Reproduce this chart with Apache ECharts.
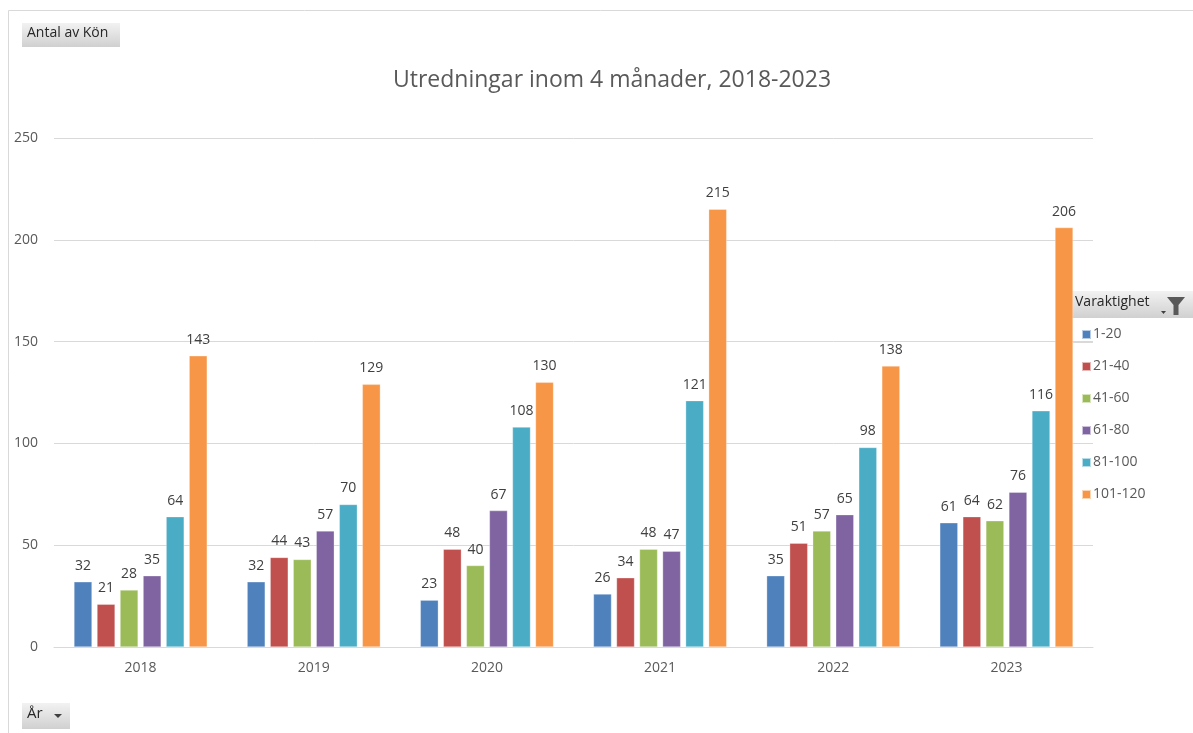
<!DOCTYPE html>
<html>
<head>
<meta charset="utf-8">
<script src="https://cdn.jsdelivr.net/npm/echarts@6/dist/echarts.min.js"></script>
<style>
html,body{margin:0;padding:0;background:#fff;}
#chart{width:1193px;height:733px;}
</style>
</head>
<body>
<div id="chart"></div>
<script>
const categories = ['2018', '2019', '2020', '2021', '2022', '2023'];
const seriesNames = ['1-20', '21-40', '41-60', '61-80', '81-100', '101-120'];
const s1_20 = [32, 32, 23, 26, 35, 61];
const s21_40 = [21, 44, 48, 34, 51, 64];
const s41_60 = [28, 43, 40, 48, 57, 62];
const s61_80 = [35, 57, 67, 47, 65, 76];
const s81_100 = [64, 70, 108, 121, 98, 116];
const s101_120 = [143, 129, 130, 215, 138, 206];
const yTicks = [0, 50, 100, 150, 200, 250];
const colors = ['#4F81BD', '#C0504D', '#9BBB59', '#8064A2', '#4BACC6', '#F79646'];
const seriesData = [s1_20, s21_40, s41_60, s61_80, s81_100, s101_120];

const FONT = '"Open Sans", "Noto Sans", sans-serif';
const chart = echarts.init(document.getElementById('chart'));

const btnGrad = new echarts.graphic.LinearGradient(0, 0, 0, 1, [
  {offset: 0, color: '#f2f2f2'}, {offset: 1, color: '#d0d0d0'}
]);

chart.setOption({
  backgroundColor: '#fff',
  animation: false,
  color: colors,
  title: {
    text: 'Utredningar inom 4 månader, 2018-2023',
    left: 388,
    top: 64,
    textStyle: {fontFamily: FONT, fontSize: 23, fontWeight: 'normal', color: '#595959'}
  },
  grid: {left: 54, right: 100, top: 138, bottom: 86, containLabel: false},
  legend: {
    orient: 'vertical',
    left: 1076,
    top: 320,
    itemWidth: 9,
    itemHeight: 9,
    itemGap: 13,
    icon: 'rect',
    selectedMode: false,
    data: seriesNames,
    textStyle: {fontFamily: FONT, fontSize: 14, color: '#595959', padding: [0, 0, 0, -3], lineHeight: 19}
  },
  xAxis: {
    type: 'category',
    data: categories,
    axisLine: {lineStyle: {color: '#d9d9d9', width: 1}},
    axisTick: {show: false},
    axisLabel: {fontFamily: FONT, fontSize: 14, color: '#595959', margin: 14}
  },
  yAxis: {
    type: 'value',
    min: yTicks[0],
    max: yTicks[yTicks.length - 1],
    interval: 50,
    axisLine: {show: false},
    axisTick: {show: false},
    splitLine: {lineStyle: {color: '#d9d9d9', width: 1}},
    axisLabel: {fontFamily: FONT, fontSize: 14, color: '#595959', margin: 16}
  },
  series: seriesNames.map((name, i) => ({
    name: name,
    type: 'bar',
    data: seriesData[i],
    barWidth: 18,
    barGap: '28%',
    itemStyle: {color: colors[i], borderColor: 'rgba(255,255,255,0.6)', borderWidth: 0.5},
    label: {
      show: true,
      position: 'top',
      distance: 9,
      fontFamily: FONT,
      fontSize: 14,
      color: '#404040'
    }
  })),
  graphic: [
    {type: 'line', shape: {x1: 8.5, y1: 10.5, x2: 1193, y2: 10.5}, style: {stroke: '#d9d9d9', lineWidth: 1}},
    {type: 'line', shape: {x1: 8.5, y1: 10.5, x2: 8.5, y2: 733}, style: {stroke: '#d9d9d9', lineWidth: 1}},
    {type: 'rect', shape: {x: 22, y: 23, width: 98, height: 24}, style: {fill: btnGrad}},
    {type: 'text', left: 27, top: 26, style: {text: 'Antal av Kön', fontFamily: FONT, fontSize: 14, fill: '#262626'}},
    {type: 'rect', shape: {x: 22, y: 703, width: 48, height: 26}, style: {fill: btnGrad}},
    {type: 'text', left: 27, top: 706, style: {text: 'År', fontFamily: FONT, fontSize: 15, fill: '#262626'}},
    {type: 'polygon', shape: {points: [[54, 714], [62, 714], [58, 718]]}, style: {fill: '#404040'}},
    {type: 'rect', shape: {x: 1071, y: 291, width: 122, height: 27}, style: {fill: btnGrad}},
    {type: 'text', left: 1075, top: 295, style: {text: 'Varaktighet', fontFamily: FONT, fontSize: 14, fill: '#262626'}},
    {type: 'polygon', shape: {points: [[1161, 311], [1166, 311], [1163.5, 314]]}, style: {fill: '#404040'}},
    {type: 'polygon', shape: {points: [[1167, 297], [1185, 297], [1178.5, 305], [1178.5, 315], [1173.5, 315], [1173.5, 305]]}, style: {fill: '#595959'}},
    {type: 'line', shape: {x1: 1073, y1: 342.5, x2: 1093, y2: 342.5}, style: {stroke: '#d9d9d9', lineWidth: 1}},
    {type: 'line', shape: {x1: 1073, y1: 443.5, x2: 1093, y2: 443.5}, style: {stroke: '#d9d9d9', lineWidth: 1}}
  ]
});
</script>
</body>
</html>
